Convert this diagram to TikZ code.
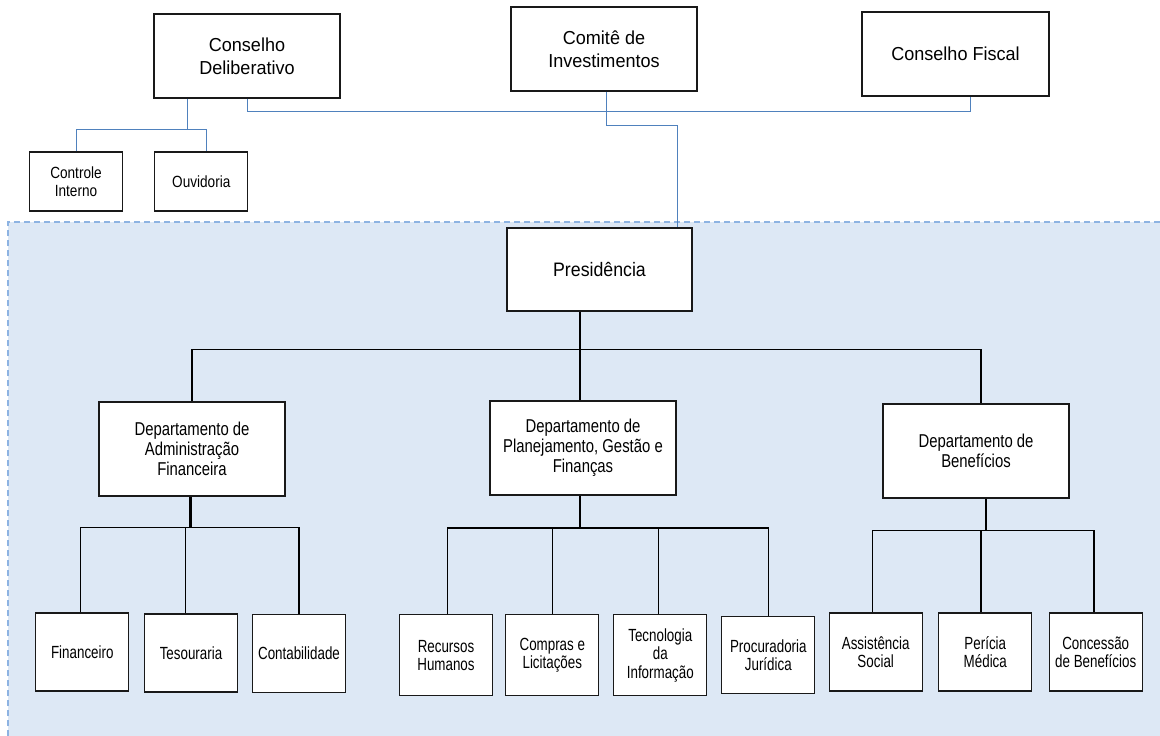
\documentclass[tikz,border=0pt]{standalone}
\usepackage{fontspec}
\setmainfont{Liberation Sans}
\newfontfamily\fdept[FakeStretch=0.8]{Liberation Sans}
\newfontfamily\fleaf[FakeStretch=0.76]{Liberation Sans}
\newfontfamily\fsmall[FakeStretch=0.84]{Liberation Sans}
\newfontfamily\fpres[FakeStretch=0.91]{Liberation Sans}
\newfontfamily\ftop[FakeStretch=0.96]{Liberation Sans}
\definecolor{bgblue}{HTML}{DDE8F5}
\definecolor{dashblue}{HTML}{8DB3E2}
\definecolor{lineblue}{HTML}{4F81BD}
\tikzset{
  box/.style={draw=black!90, line width=1.1pt, fill=white, rectangle, inner sep=0pt, align=center},
  topbox/.style={box, minimum width=186pt, minimum height=84pt, font=\ftop\fontsize{18.8}{23}\selectfont},
  presbox/.style={box, minimum width=185pt, minimum height=83pt, font=\fpres\fontsize{19.5}{23}\selectfont},
  deptbox/.style={box, minimum width=186pt, minimum height=94pt, font=\fdept\fontsize{18.6}{19.8}\selectfont},
  smallbox/.style={box, minimum width=93pt, minimum height=59pt, font=\fsmall\fontsize{16.2}{17.7}\selectfont},
  leafbox/.style={box, minimum width=93pt, minimum height=78pt, font=\fleaf\fontsize{17.6}{18.3}\selectfont},
  leafboxt/.style={leafbox, minimum height=81pt},
  blueline/.style={draw=lineblue, line width=1pt},
  blk/.style={draw=black, line width=1.4pt},
  thk/.style={draw=black, line width=2.8pt},
}
\begin{document}
\begin{tikzpicture}[x=1pt,y=-1pt]
\useasboundingbox (0,0) rectangle (1160,736);
% background
\fill[bgblue] (8,222) rectangle (1160,736);
\draw[dashblue, line width=1.2pt, dash pattern=on 6pt off 4pt] (8,736) -- (8,222) -- (1160,222);

% top row
\node[topbox] (cd) at (247,56) {Conselho\\Deliberativo};
\node[topbox] (ci2) at (604,49) {Comitê de\\Investimentos};
\node[topbox, minimum width=187pt] (cf) at (955.5,54) {Conselho Fiscal};
\node[smallbox] (ci) at (76,181.5) {Controle\\Interno};
\node[smallbox] (ou) at (201.3,181.5) {Ouvidoria};

% presidencia and departments
\node[presbox] (pres) at (599.5,269.5) {Presidência};
\node[deptbox] (daf) at (192,449) {Departamento de\\Administração\\Financeira};
\node[deptbox] (dpgf) at (583,448) {Departamento de\\Planejamento, Gestão e\\Finanças};
\node[deptbox] (db) at (976,451) {Departamento de\\Benefícios};

% leaves
\node[leafbox] (fin) at (82.3,652) {Financeiro};
\node[leafbox] (tes) at (191,653) {Tesouraria};
\node[leafbox] (cont) at (299,653.7) {Contabilidade};
\node[leafboxt] (rh) at (446,655.3) {Recursos\\Humanos};
\node[leafboxt] (comp) at (552.3,655.3) {Compras e\\Licitações};
\node[leafboxt] (ti) at (660.3,655.3) {Tecnologia\\da\\Informação};
\node[leafbox, minimum height=77pt] (proc) at (768.3,655.3) {Procuradoria\\Jurídica};
\node[leafbox] (as) at (875.7,652) {Assistência\\Social};
\node[leafbox] (pm) at (985.3,652) {Perícia\\Médica};
\node[leafbox] (cb) at (1095.7,652) {Concessão\\de Benefícios};

% blue connectors
\draw[blueline] ([xshift=-60pt]cd.south) -- ++(0,31.3) coordinate (cdj);
\draw[blueline] (ci.north) |- (cdj) -| ([xshift=4.7pt]ou.north);
\draw[blueline] (cd.south) -- ++(0,13) -| ([xshift=15pt]cf.south);
\draw[blueline] ([xshift=2pt]ci2.south) -- ++(0,34) -| ([xshift=78pt]pres.north);

% presidencia to departments
\coordinate (pb) at ([xshift=-19.5pt]pres.south);
\coordinate (bar) at ([yshift=-38pt]pb);
\draw[blk] (pb) -- (pb |- dpgf.north);
\draw[blk] (daf.north) |- (bar) -| ([xshift=5pt]db.north);

% DAF children
\draw[thk] ([xshift=-1.3pt]daf.south) -- ++(0,31) coordinate (dafj);
\draw[blk] ([xshift=-2pt]fin.north) |- (dafj) -| (cont.north);
\draw[blk] (dafj) -| ([xshift=-5.7pt]tes.north);

% DPGF children
\draw[thk] ([xshift=-3pt]dpgf.south) -- ++(0,32.5) coordinate (dpj);
\draw[blk] ([xshift=1.7pt]rh.north) |- (dpj) -| (proc.north);
\draw[blk] (dpj) -| (comp.north);
\draw[blk] (dpj) -| ([xshift=-1.6pt]ti.north);

% DB children
\draw[thk] ([xshift=10pt]db.south) -- ++(0,32) coordinate (dbj);
\draw[blk] ([xshift=-3pt]as.north) |- (dbj) -| ([xshift=-1.7pt]cb.north);
\draw[blk] (dbj) -| ([xshift=-4.3pt]pm.north);
\end{tikzpicture}
\end{document}
